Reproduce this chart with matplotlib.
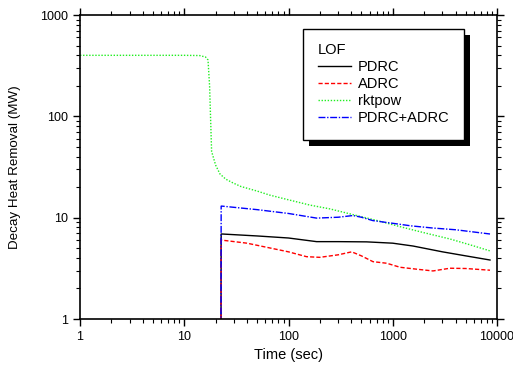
import matplotlib
matplotlib.use("Agg")
from matplotlib import pyplot as plt
from matplotlib.patches import Rectangle

plt.rcParams['font.family'] = ['Liberation Sans', 'DejaVu Sans']

# Time (sec) and decay heat removal (MW)
t_rkt = [1, 5, 10, 14, 16, 16.9, 17.5, 18.3, 20, 22, 25, 29.4, 35, 50, 66, 100, 161, 250, 434, 700, 1175, 2000, 3540, 5500, 8570]
v_rkt = [400, 400, 400, 398, 385, 360, 200, 45, 33, 27, 24, 22, 20.3, 18.3, 16.7, 15, 13.3, 12.2, 10.6, 9.4, 8.15, 7.1, 6.16, 5.4, 4.7]

t_pdrc = [22.5, 22.6, 23, 50, 100, 186, 300, 562, 1000, 1565, 3000, 5000, 8570]
v_pdrc = [0.5, 6.9, 6.9, 6.6, 6.3, 5.8, 5.8, 5.77, 5.6, 5.25, 4.6, 4.2, 3.82]

t_adrc = [22.5, 22.6, 23, 40, 61.8, 100, 149, 200, 300, 404, 500, 646, 875, 1175, 1700, 2430, 3540, 5000, 8570]
v_adrc = [0.5, 6.0, 6.0, 5.6, 5.1, 4.6, 4.12, 4.06, 4.3, 4.6, 4.2, 3.68, 3.55, 3.24, 3.1, 2.98, 3.17, 3.15, 3.03]

t_both = [22.5, 22.6, 23, 50, 100, 186, 300, 416, 500, 646, 1000, 1500, 2430, 4000, 8570]
v_both = [0.5, 13.0, 13.0, 12.0, 11.0, 9.9, 10.1, 10.5, 10.1, 9.35, 8.8, 8.3, 7.9, 7.6, 6.9]

fig = plt.figure(figsize=(5.13, 3.69), dpi=100)
ax = fig.add_axes([80 / 513, 1 - 319 / 369, 417 / 513, 304 / 369])

ax.plot(t_pdrc, v_pdrc, color='black', lw=1.0, ls='-', label='PDRC')
ax.plot(t_adrc, v_adrc, color='red', lw=1.0, ls=(0, (3, 1.5)), label='ADRC')
ax.plot(t_rkt, v_rkt, color='#22ee22', lw=1.0, ls=(0, (1, 1.2)), label='rktpow')
ax.plot(t_both, v_both, color='blue', lw=1.0, ls=(0, (5, 1.2, 1, 1.2)), label='PDRC+ADRC')

ax.set_xscale('log')
ax.set_yscale('log')
ax.set_xlim(1, 10000)
ax.set_ylim(1, 1000)
ax.set_xticks([1, 10, 100, 1000, 10000])
ax.set_xticklabels(['1', '10', '100', '1000', '10000'])
ax.set_yticks([1, 10, 100, 1000])
ax.set_yticklabels(['1', '10', '100', '1000'])

ax.tick_params(axis='both', which='both', direction='out', labelsize=9)
ax.tick_params(which='major', length=5, width=1)
ax.tick_params(which='minor', length=3, width=0.8)
ax.tick_params(axis='x', which='both', top=True)
ax.tick_params(axis='y', which='both', right=True)
for s in ax.spines.values():
    s.set_linewidth(1.2)

ax.set_xlabel('Time (sec)', fontsize=10.5)
ax.set_ylabel('Decay Heat Removal (MW)', fontsize=9.6, labelpad=14)

leg = ax.legend(title='LOF', loc='upper left', bbox_to_anchor=(0.535, 0.955),
                borderaxespad=0, fancybox=False, frameon=True, edgecolor='black',
                framealpha=1, fontsize=10.5, title_fontsize=10.5, handlelength=2.3,
                handletextpad=0.45, labelspacing=0.2, borderpad=1.0,
                alignment='left')
leg.get_frame().set_linewidth(1.0)

fig.canvas.draw()
bb = leg.get_window_extent()
shadow = Rectangle((bb.x0 + 6, bb.y0 - 6), bb.width, bb.height, transform=None,
                   facecolor='black', edgecolor='none', zorder=leg.get_zorder() - 0.1)
ax.add_artist(shadow)

fig.savefig('out.png', dpi=100)
